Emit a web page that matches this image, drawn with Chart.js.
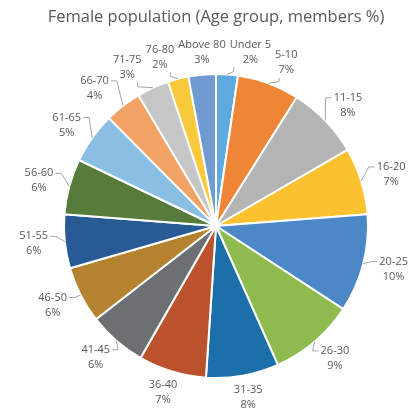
<!DOCTYPE html>
<html>
<head>
<meta charset="utf-8">
<script src="https://cdn.jsdelivr.net/npm/chart.js@4.4.0/dist/chart.umd.min.js"></script>
<style>
    html, body { margin: 0; padding: 0; background: #fff; }
</style>
</head>
<body>
<canvas id="myChart" width="412" height="412"></canvas>
<script>
// Data (share of members, %)
var ageGroups = ['Under 5', '5-10', '11-15', '16-20', '20-25', '26-30', '31-35', '36-40',
    '41-45', '46-50', '51-55', '56-60', '61-65', '66-70', '71-75', '76-80', 'Above 80'];
var memberShares = [2.3, 6.6, 7.7, 7.1, 10.4, 9.1, 7.7, 7.2, 6.2, 6.0, 5.7, 5.9, 5.4, 3.9, 3.4, 2.2, 2.9];
var sliceColors = ['#5EA9DD', '#EF8537', '#B4B4B4', '#FCC12F', '#4C87C7', '#8DBB4E', '#1C70A9', '#BA522E',
    '#6C7072', '#B5832F', '#285A96', '#567B3B', '#8BBEE3', '#F2A264', '#C6C6C6', '#F8C93B', '#6F9BD0'];

var textColor = '#595959';
var labelFont = '11px "Open Sans"';
var lineH = 15;
var gapX = 17, gapY = 7;

// draws the "name / xx%" labels outside the pie, with leader lines
var outsideLabels = {
    id: 'outsideLabels',
    afterDatasetsDraw: function (chart) {
        var ctx = chart.ctx;
        var meta = chart.getDatasetMeta(0);
        var data = chart.data.datasets[0].data;
        var total = data.reduce(function (a, b) { return a + b; }, 0);
        ctx.save();
        ctx.font = labelFont;

        var boxes = meta.data.map(function (arc, i) {
            var p = arc.getProps(['x', 'y', 'startAngle', 'endAngle', 'outerRadius'], true);
            var mid = (p.startAngle + p.endAngle) / 2;
            var line1 = chart.data.labels[i];
            var line2 = Math.round(data[i] / total * 100) + '%';
            var w = Math.max(ctx.measureText(line1).width, ctx.measureText(line2).width);
            var h = lineH * 2;
            var ax = p.x + Math.cos(mid) * (p.outerRadius + gapX);
            var ay = p.y + Math.sin(mid) * (p.outerRadius + gapY);
            return {
                line1: line1, line2: line2, w: w, h: h, mid: mid,
                cx: ax + Math.cos(mid) * w / 2,
                cy: ay + Math.sin(mid) * h / 2,
                sx: p.x + Math.cos(mid) * p.outerRadius,
                sy: p.y + Math.sin(mid) * p.outerRadius
            };
        });

        // push overlapping neighbours apart
        for (var it = 0; it < 30; it++) {
            for (var i = 0; i < boxes.length; i++) {
                var a = boxes[i], b = boxes[(i + 1) % boxes.length];
                var ox = (a.w + b.w) / 2 + 4 - Math.abs(a.cx - b.cx);
                var oy = (a.h + b.h) / 2 - Math.abs(a.cy - b.cy);
                if (ox > 0 && oy > 0) {
                    if (ox < oy) {
                        var s = a.cx < b.cx ? 1 : -1;
                        a.cx -= s * ox / 2; b.cx += s * ox / 2;
                    } else {
                        var t = a.cy < b.cy ? 1 : -1;
                        a.cy -= t * oy / 2; b.cy += t * oy / 2;
                    }
                }
            }
        }

        boxes.forEach(function (b) {
            // leader line
            var left = b.cx - b.w / 2, right = b.cx + b.w / 2;
            var top = b.cy - b.h / 2, bottom = b.cy + b.h / 2;
            var side = Math.abs(Math.cos(b.mid)) > 0.45;
            var tx, ty;
            if (side) {
                tx = Math.cos(b.mid) > 0 ? left - 2 : right + 2;
                ty = b.cy - lineH / 2;
            } else {
                tx = Math.min(Math.max(b.sx, left + 4), right - 4);
                ty = Math.sin(b.mid) > 0 ? top + 1 : bottom;
            }
            var d = Math.hypot(tx - b.sx, ty - b.sy);
            if (d > 9) {
                ctx.strokeStyle = '#A6A6A6';
                ctx.lineWidth = 1;
                ctx.beginPath();
                ctx.moveTo(b.sx, b.sy);
                if (side) {
                    ctx.lineTo(tx - (Math.cos(b.mid) > 0 ? 6 : -6), ty);
                } else {
                    ctx.lineTo(tx, ty + (Math.sin(b.mid) > 0 ? -4 : 4));
                }
                ctx.lineTo(tx, ty);
                ctx.stroke();
            }
            ctx.fillStyle = textColor;
            ctx.textAlign = 'center';
            ctx.textBaseline = 'middle';
            ctx.fillText(b.line1, b.cx, b.cy - lineH / 2);
            ctx.fillText(b.line2, b.cx, b.cy + lineH / 2);
        });
        ctx.restore();
    }
};

var ctx = document.getElementById('myChart').getContext('2d');
var myChart = new Chart(ctx, {
    type: 'pie',
    data: {
        labels: ageGroups,
        datasets: [{
            data: memberShares,
            backgroundColor: sliceColors,
            borderColor: '#ffffff',
            borderWidth: 2
        }]
    },
    options: {
        responsive: false,
        animation: false,
        radius: 152,
        layout: { padding: { left: 20, right: 0, top: 0, bottom: 8 } },
        plugins: {
            legend: { display: false },
            tooltip: { enabled: false },
            title: {
                display: true,
                text: 'Female population (Age group, members %)',
                color: textColor,
                font: { family: 'Open Sans', size: 16.5, weight: 'normal', lineHeight: 1.2 },
                padding: { top: 7, bottom: 21.2 }
            }
        }
    },
    plugins: [outsideLabels]
});
</script>
</body>
</html>
